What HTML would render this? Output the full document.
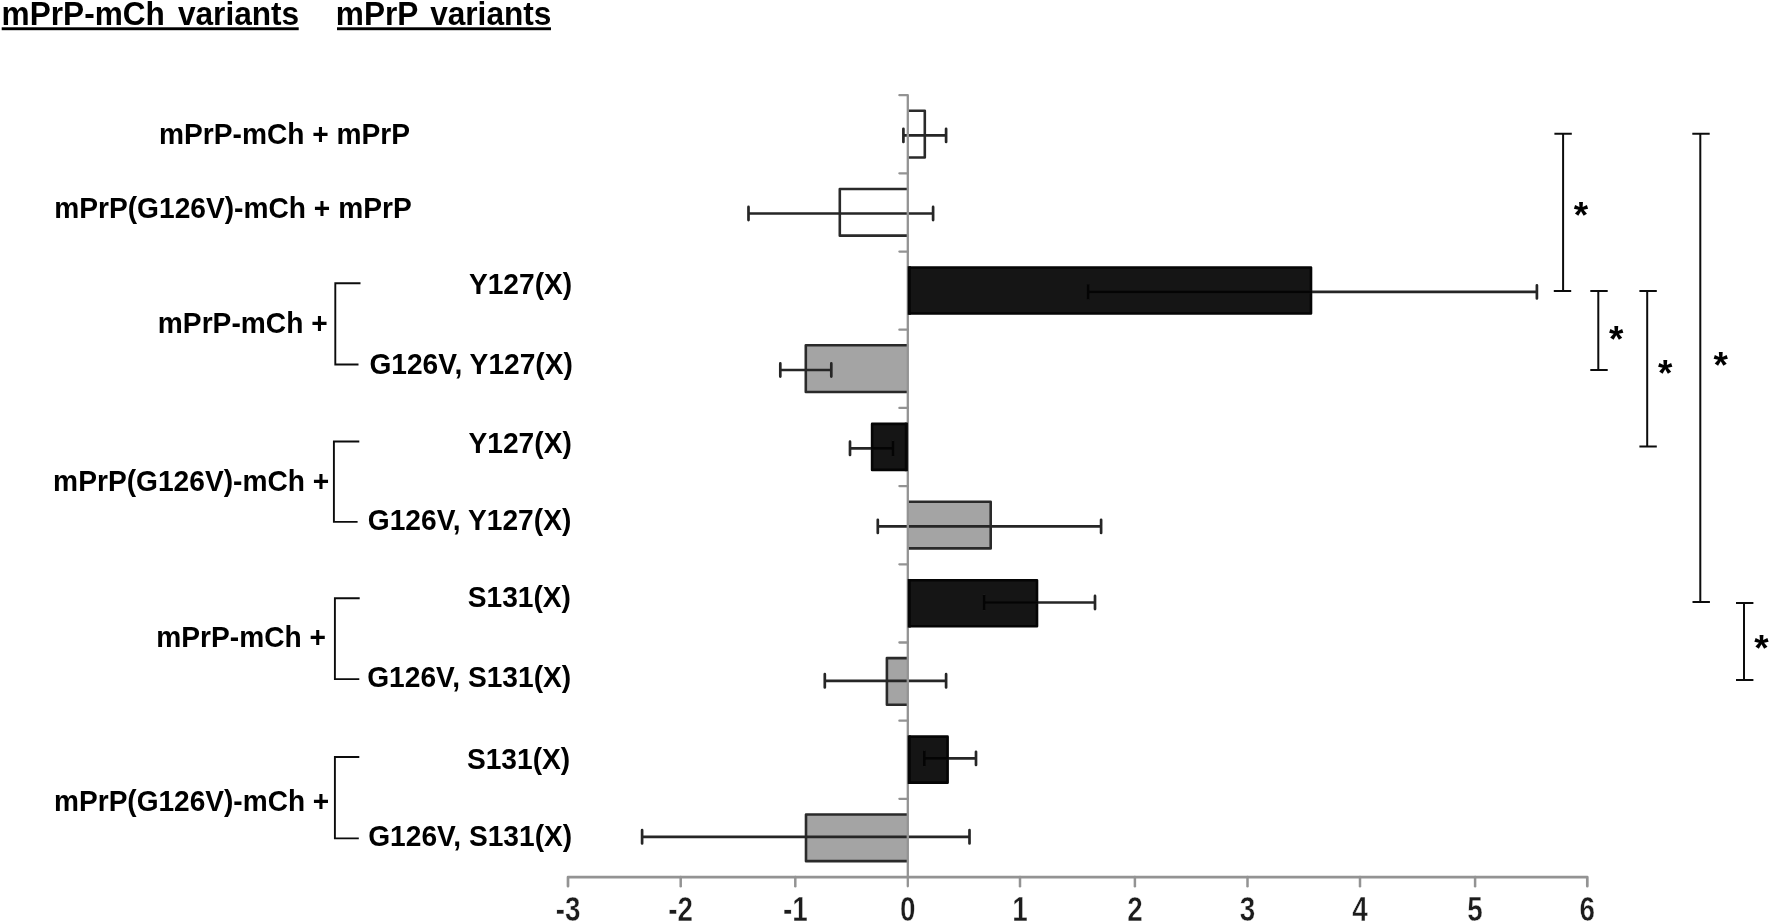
<!DOCTYPE html>
<html lang="en">
<head>
<meta charset="utf-8">
<title>mPrP-mCh variants / mPrP variants</title>
<style>
html,body{margin:0;padding:0;background:#fff;}
body{width:1770px;height:924px;overflow:hidden;}
svg{display:block;filter:blur(0.4px);}
text{font-family:"Liberation Sans",sans-serif;font-weight:bold;fill:#000;}
.t{font-size:33.2px;}
.l{font-size:29.1px;}
.ax{font-size:34.8px;fill:#1c1c1c;stroke:#fff;stroke-width:0.4px;vector-effect:non-scaling-stroke;}
.st{font-size:37px;}
</style>
</head>
<body>
<svg width="1770" height="924" viewBox="0 0 1770 924">
<rect x="0" y="0" width="1770" height="924" fill="#ffffff"/>

<g id="titles">
<text class="t" transform="translate(1.6 24.6) scale(0.952 1)">mPrP-mCh <tspan dx="4.5">variants</tspan></text>
<rect x="1.7" y="27.3" width="297" height="2.9" fill="#000"/>
<text class="t" transform="translate(335.8 24.6) scale(0.952 1)">mPrP <tspan dx="3.8">variants</tspan></text>
<rect x="337" y="27.3" width="214" height="2.9" fill="#000"/>
</g>
<g id="labels">
<text class="l" text-anchor="end" transform="translate(410.1 144.0) scale(0.968 1)">mPrP-mCh + mPrP</text>
<text class="l" text-anchor="end" transform="translate(411.7 218.0) scale(0.968 1)">mPrP(G126V)-mCh + mPrP</text>
<text class="l" text-anchor="end" transform="translate(572.2 293.7) scale(0.968 1)">Y127(X)</text>
<text class="l" text-anchor="end" transform="translate(572.9 373.9) scale(0.968 1)">G126V, Y127(X)</text>
<text class="l" text-anchor="end" transform="translate(571.8 453.1) scale(0.968 1)">Y127(X)</text>
<text class="l" text-anchor="end" transform="translate(571.3 530.1) scale(0.968 1)">G126V, Y127(X)</text>
<text class="l" text-anchor="end" transform="translate(571.0 607.2) scale(0.968 1)">S131(X)</text>
<text class="l" text-anchor="end" transform="translate(571.2 686.7) scale(0.968 1)">G126V, S131(X)</text>
<text class="l" text-anchor="end" transform="translate(570.2 768.6) scale(0.968 1)">S131(X)</text>
<text class="l" text-anchor="end" transform="translate(572.2 845.8) scale(0.968 1)">G126V, S131(X)</text>
<text class="l" text-anchor="end" transform="translate(327.6 332.5) scale(0.968 1)">mPrP-mCh +</text>
<text class="l" text-anchor="end" transform="translate(329.3 491.3) scale(0.968 1)">mPrP(G126V)-mCh +</text>
<text class="l" text-anchor="end" transform="translate(326.0 646.7) scale(0.968 1)">mPrP-mCh +</text>
<text class="l" text-anchor="end" transform="translate(329.2 810.8) scale(0.964 1)">mPrP(G126V)-mCh +</text>
<path d="M360.5 283.2H335.3V364.5H358.5" fill="none" stroke="#0c0c0c" stroke-width="1.9"/>
<path d="M359.3 441.5H333.9V521.9H357.6" fill="none" stroke="#0c0c0c" stroke-width="1.9"/>
<path d="M359.7 598.2H334.9V679.1H359.3" fill="none" stroke="#0c0c0c" stroke-width="1.9"/>
<path d="M359.3 757.0H334.9V838.4H358.8" fill="none" stroke="#0c0c0c" stroke-width="1.9"/>
</g>
<g id="bars">
<path d="M907.8 110.75H924.80V157.45H907.8" fill="#ffffff" stroke="#2a2a2a" stroke-width="2.6" stroke-linejoin="round"/>
<path d="M907.8 188.94H839.80V235.64H907.8" fill="#ffffff" stroke="#2a2a2a" stroke-width="2.6" stroke-linejoin="round"/>
<path d="M907.8 267.53H1311.00V313.53H907.8" fill="#151515" stroke="#050505" stroke-width="2.6" stroke-linejoin="round"/>
<path d="M907.8 345.32H805.80V392.02H907.8" fill="#a4a4a4" stroke="#2a2a2a" stroke-width="2.6" stroke-linejoin="round"/>
<path d="M907.8 423.91H872.10V469.91H907.8" fill="#151515" stroke="#050505" stroke-width="2.6" stroke-linejoin="round"/>
<path d="M907.8 501.70H990.70V548.40H907.8" fill="#a4a4a4" stroke="#2a2a2a" stroke-width="2.6" stroke-linejoin="round"/>
<path d="M907.8 580.29H1037.00V626.29H907.8" fill="#151515" stroke="#050505" stroke-width="2.6" stroke-linejoin="round"/>
<path d="M907.8 658.08H886.90V704.78H907.8" fill="#a4a4a4" stroke="#2a2a2a" stroke-width="2.6" stroke-linejoin="round"/>
<path d="M907.8 736.67H947.60V782.67H907.8" fill="#151515" stroke="#050505" stroke-width="2.6" stroke-linejoin="round"/>
<path d="M907.8 814.46H806.00V861.16H907.8" fill="#a4a4a4" stroke="#2a2a2a" stroke-width="2.6" stroke-linejoin="round"/>
</g>
<g id="errors" stroke="#262626" stroke-width="2.7" stroke-linecap="round" fill="none">
<path d="M903.4 128.8V142.0M903.4 135.4H946.1M946.1 128.8V142.0"/>
<path d="M748.5 206.9V220.1M748.5 213.5H933.1M933.1 206.9V220.1"/>
<path d="M1088.2 285.29999999999995V298.5M1088.2 291.9H1536.9M1536.9 285.29999999999995V298.5"/>
<path d="M780.3 363.4V376.6M780.3 370.0H831.3M831.3 363.4V376.6"/>
<path d="M850.0 441.7V454.90000000000003M850.0 448.3H893.0M893.0 441.7V454.90000000000003"/>
<path d="M877.8 519.8V533.0M877.8 526.4H1101.1M1101.1 519.8V533.0"/>
<path d="M984.1 595.9V609.1M984.1 602.5H1095.0M1095.0 595.9V609.1"/>
<path d="M824.8 674.1999999999999V687.4M824.8 680.8H946.1M946.1 674.1999999999999V687.4"/>
<path d="M924.4 751.8V765.0M924.4 758.4H976.0M976.0 751.8V765.0"/>
<path d="M642.1 830.1999999999999V843.4M642.1 836.8H969.5M969.5 830.1999999999999V843.4"/>
</g>
<g id="errors-in-black" stroke="#040404" stroke-width="2.7" fill="none">
<path d="M1088.2 291.9H1312.1M1088.2 284.29999999999995V299.5"/>
<path d="M871.0 448.3H893.0M893.0 440.7V455.90000000000003"/>
<path d="M984.1 602.5H1038.1M984.1 594.9V610.1"/>
<path d="M924.4 758.4H948.7M924.4 750.8V766.0"/>
</g>
<g id="axes">
<path d="M899.4 95.15H907.8V886.25" fill="none" stroke="#939393" stroke-width="2.3" stroke-linejoin="round" stroke-linecap="round"/>
<line x1="899.4" y1="173.34" x2="907.8" y2="173.34" stroke="#939393" stroke-width="2.3" stroke-linecap="round"/>
<line x1="899.4" y1="251.53" x2="907.8" y2="251.53" stroke="#939393" stroke-width="2.3" stroke-linecap="round"/>
<line x1="899.4" y1="329.72" x2="907.8" y2="329.72" stroke="#939393" stroke-width="2.3" stroke-linecap="round"/>
<line x1="899.4" y1="407.91" x2="907.8" y2="407.91" stroke="#939393" stroke-width="2.3" stroke-linecap="round"/>
<line x1="899.4" y1="486.10" x2="907.8" y2="486.10" stroke="#939393" stroke-width="2.3" stroke-linecap="round"/>
<line x1="899.4" y1="564.29" x2="907.8" y2="564.29" stroke="#939393" stroke-width="2.3" stroke-linecap="round"/>
<line x1="899.4" y1="642.48" x2="907.8" y2="642.48" stroke="#939393" stroke-width="2.3" stroke-linecap="round"/>
<line x1="899.4" y1="720.67" x2="907.8" y2="720.67" stroke="#939393" stroke-width="2.3" stroke-linecap="round"/>
<line x1="899.4" y1="798.86" x2="907.8" y2="798.86" stroke="#939393" stroke-width="2.3" stroke-linecap="round"/>
<path d="M568.0 886.25V877.15H1587.3V886.25" fill="none" stroke="#939393" stroke-width="2.7" stroke-linejoin="round" stroke-linecap="round"/>
<text class="ax" text-anchor="middle" transform="translate(568.00 921.2) scale(0.8 1)">-3</text>
<line x1="680.70" y1="877.05" x2="680.70" y2="886.25" stroke="#939393" stroke-width="2.5" stroke-linecap="round"/>
<text class="ax" text-anchor="middle" transform="translate(680.70 921.2) scale(0.8 1)">-2</text>
<line x1="795.30" y1="877.05" x2="795.30" y2="886.25" stroke="#939393" stroke-width="2.5" stroke-linecap="round"/>
<text class="ax" text-anchor="middle" transform="translate(795.30 921.2) scale(0.8 1)">-1</text>
<text class="ax" text-anchor="middle" transform="translate(907.80 921.2) scale(0.8 1)">0</text>
<line x1="1020.00" y1="877.05" x2="1020.00" y2="886.25" stroke="#939393" stroke-width="2.5" stroke-linecap="round"/>
<text class="ax" text-anchor="middle" transform="translate(1020.00 921.2) scale(0.8 1)">1</text>
<line x1="1134.90" y1="877.05" x2="1134.90" y2="886.25" stroke="#939393" stroke-width="2.5" stroke-linecap="round"/>
<text class="ax" text-anchor="middle" transform="translate(1134.90 921.2) scale(0.8 1)">2</text>
<line x1="1247.50" y1="877.05" x2="1247.50" y2="886.25" stroke="#939393" stroke-width="2.5" stroke-linecap="round"/>
<text class="ax" text-anchor="middle" transform="translate(1247.50 921.2) scale(0.8 1)">3</text>
<line x1="1360.00" y1="877.05" x2="1360.00" y2="886.25" stroke="#939393" stroke-width="2.5" stroke-linecap="round"/>
<text class="ax" text-anchor="middle" transform="translate(1360.00 921.2) scale(0.8 1)">4</text>
<line x1="1475.10" y1="877.05" x2="1475.10" y2="886.25" stroke="#939393" stroke-width="2.5" stroke-linecap="round"/>
<text class="ax" text-anchor="middle" transform="translate(1475.10 921.2) scale(0.8 1)">5</text>
<text class="ax" text-anchor="middle" transform="translate(1587.30 921.2) scale(0.8 1)">6</text>
</g>
<g id="axis-overlap">
<rect x="907.7" y="266.23" width="3.1" height="48.60" fill="#060606"/>
<rect x="904.8" y="422.61" width="3.1" height="48.60" fill="#060606"/>
<rect x="907.7" y="578.99" width="3.1" height="48.60" fill="#060606"/>
<rect x="907.7" y="735.37" width="3.1" height="48.60" fill="#060606"/>
</g>
<g id="sig">
<path d="M1554.4 133.8H1571.8M1563.1 133.8V291.0M1553.8 291.0H1571.2" fill="none" stroke="#0c0c0c" stroke-width="2"/>
<text class="st" text-anchor="middle" x="1581.0" y="227.7">*</text>
<path d="M1590.3 291.0H1607.7M1598.3 291.0V370.0M1590.3 370.0H1607.7" fill="none" stroke="#0c0c0c" stroke-width="2"/>
<text class="st" text-anchor="middle" x="1616.3" y="352.1">*</text>
<path d="M1639.4 291.0H1656.8M1647.2 291.0V446.4M1639.4 446.4H1656.8" fill="none" stroke="#0c0c0c" stroke-width="2"/>
<text class="st" text-anchor="middle" x="1665.3" y="385.5">*</text>
<path d="M1692.3 133.8H1709.7M1700.3 133.8V602.1M1692.5 602.1H1709.9" fill="none" stroke="#0c0c0c" stroke-width="2"/>
<text class="st" text-anchor="middle" x="1720.8" y="377.9">*</text>
<path d="M1736.0 603.1H1753.4M1744.0 603.1V680.1M1736.0 680.1H1753.4" fill="none" stroke="#0c0c0c" stroke-width="2"/>
<text class="st" text-anchor="middle" x="1761.4" y="661.2">*</text>
</g>
</svg>
</body>
</html>
